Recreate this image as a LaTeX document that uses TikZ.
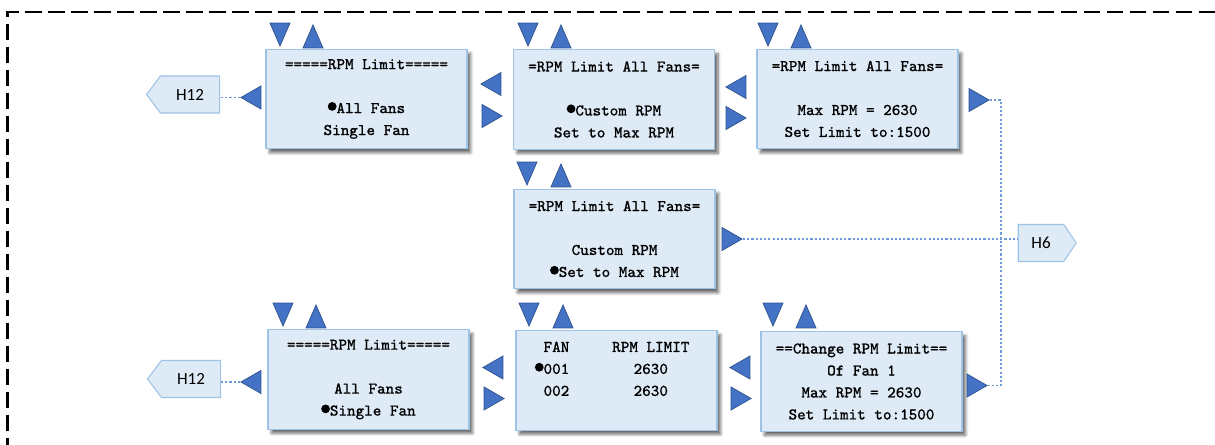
\documentclass[tikz,border=0pt]{standalone}
\usepackage{fontspec}
\setsansfont{Carlito}
\newfontfamily\screenfont{Latin Modern Mono}[FakeBold=0.7]
\usetikzlibrary{shapes.geometric,shapes.symbols,shadows.blur}
\definecolor{boxfill}{HTML}{DEEBF7}
\definecolor{boxedge}{HTML}{9DC3E6}
\definecolor{triblue}{HTML}{4472C4}
\definecolor{triedge}{HTML}{2F528F}
\definecolor{linkblue}{HTML}{7099DA}
\newcommand{\sel}{\makebox[4.9pt]{\raisebox{1.3pt}{\tikz\fill (0,0) circle (2.5pt);}}}
\begin{document}
\begin{tikzpicture}[
  screen/.style={draw=boxedge,fill=boxfill,line width=0.6pt,minimum width=4.02cm,minimum height=1.99cm,
    align=center,inner sep=0pt,font=\screenfont\fontsize{9.3}{12.5}\selectfont,
    blur shadow={shadow xshift=0.07cm,shadow yshift=-0.08cm,shadow blur steps=6,shadow opacity=60}},
  tri/.style={isosceles triangle,isosceles triangle stretches,fill=triblue,draw=triedge,line width=0.4pt,
    inner sep=0pt,anchor=apex},
  triup/.style={tri,shape border rotate=90,minimum width=0.40cm,minimum height=0.46cm},
  tridn/.style={tri,shape border rotate=-90,minimum width=0.40cm,minimum height=0.46cm},
  trilt/.style={tri,shape border rotate=180,minimum width=0.46cm,minimum height=0.40cm},
  trirt/.style={tri,shape border rotate=0,minimum width=0.46cm,minimum height=0.40cm},
  tag/.style={signal,draw=boxedge,fill=boxfill,line width=0.6pt,minimum height=0.74cm,
    font=\sffamily\fontsize{9.7}{11}\selectfont},
  link/.style={draw=linkblue,line width=0.6pt,dash pattern=on 1.2pt off 1.2pt}]
\useasboundingbox (0,0) rectangle (24.3,-8.9);
\draw[line width=1.4pt,dash pattern=on 0.33cm off 0.13cm] (24.3,-0.24) -- (0.15,-0.24) -- (0.15,-8.9);

\node[screen] (menu) at (7.33,-1.98) {=====RPM Limit=====\\~\\\sel All Fans\\Single Fan};
\node[screen] (allFans) at (12.28,-1.99) {=RPM Limit All Fans=\\~\\\sel Custom RPM\\Set to Max RPM};
\node[screen] (setLimit) at (17.15,-1.98) {=RPM Limit All Fans=\\~\\Max RPM = 2630\\Set Limit to:1500};
\node[screen] (maxRpm) at (12.29,-4.78) {=RPM Limit All Fans=\\~\\Custom RPM\\\sel Set to Max RPM};
\node[screen] (menuB) at (7.37,-7.59) {=====RPM Limit=====\\~\\All Fans\\\sel Single Fan};
\node[screen] (fanList) at (12.33,-7.61) {\begin{tabular}{@{}l@{\hspace{24.4pt}}c@{}}
  FAN & RPM LIMIT\\ \llap{\sel}001 & 2630\\ 002 & 2630\\ ~ & \end{tabular}};
\node[screen] (fanLimit) at (17.23,-7.63) {==Change RPM Limit==\\Of Fan 1\\Max RPM = 2630\\Set Limit to:1500};

\node[tridn] (menuDn) at (5.60,-0.94) {};
\node[triup] (menuUp) at (6.26,-0.48) {};
\node[trilt] (menuBack) at (4.80,-1.95) {};
\node[trilt] (allBack) at (9.60,-1.68) {};
\node[trirt] (allNext) at (10.06,-2.32) {};
\node[tridn] (allDn) at (10.56,-0.94) {};
\node[triup] (allUp) at (11.22,-0.48) {};
\node[trilt] (setBack) at (14.50,-1.74) {};
\node[trirt] (setNext) at (14.94,-2.36) {};
\node[tridn] (setDn) at (15.36,-0.94) {};
\node[triup] (setUp) at (16.02,-0.48) {};
\node[trirt] (setOut) at (19.80,-2.00) {};
\node[tridn] (maxDn) at (10.54,-3.72) {};
\node[triup] (maxUp) at (11.22,-3.26) {};
\node[trirt] (maxOut) at (14.86,-4.78) {};
\node[tridn] (menuBDn) at (5.66,-6.54) {};
\node[triup] (menuBUp) at (6.32,-6.08) {};
\node[trilt] (menuBBack) at (4.80,-7.64) {};
\node[trilt] (fanBack) at (9.64,-7.35) {};
\node[trirt] (fanNext) at (10.10,-7.97) {};
\node[tridn] (fanDn) at (10.58,-6.54) {};
\node[triup] (fanUp) at (11.26,-6.08) {};
\node[trilt] (limBack) at (14.58,-7.35) {};
\node[trirt] (limNext) at (15.04,-7.97) {};
\node[tridn] (limDn) at (15.46,-6.54) {};
\node[triup] (limUp) at (16.12,-6.08) {};
\node[trirt] (limOut) at (19.76,-7.71) {};

\node[tag,signal to=west,signal pointer angle=106,minimum width=1.46cm] (homeA) at (3.80,-1.89) {H12};
\node[tag,signal to=west,signal pointer angle=106,minimum width=1.46cm] (homeB) at (3.82,-7.58) {H12};
\node[tag,signal to=east,signal pointer angle=112,minimum width=1.16cm] (jumpH6) at (20.82,-4.86) {H6};

\draw[link] (menuBack.apex) -- (homeA.east |- menuBack.apex);
\draw[link] (menuBBack.apex) -- (homeB.east |- menuBBack.apex);
\draw[link] (maxOut.apex) -- (jumpH6.west |- maxOut.apex);
\draw[link] (setOut.apex) -- ++(0.22,0) |- (limOut.apex);
\end{tikzpicture}
\end{document}
